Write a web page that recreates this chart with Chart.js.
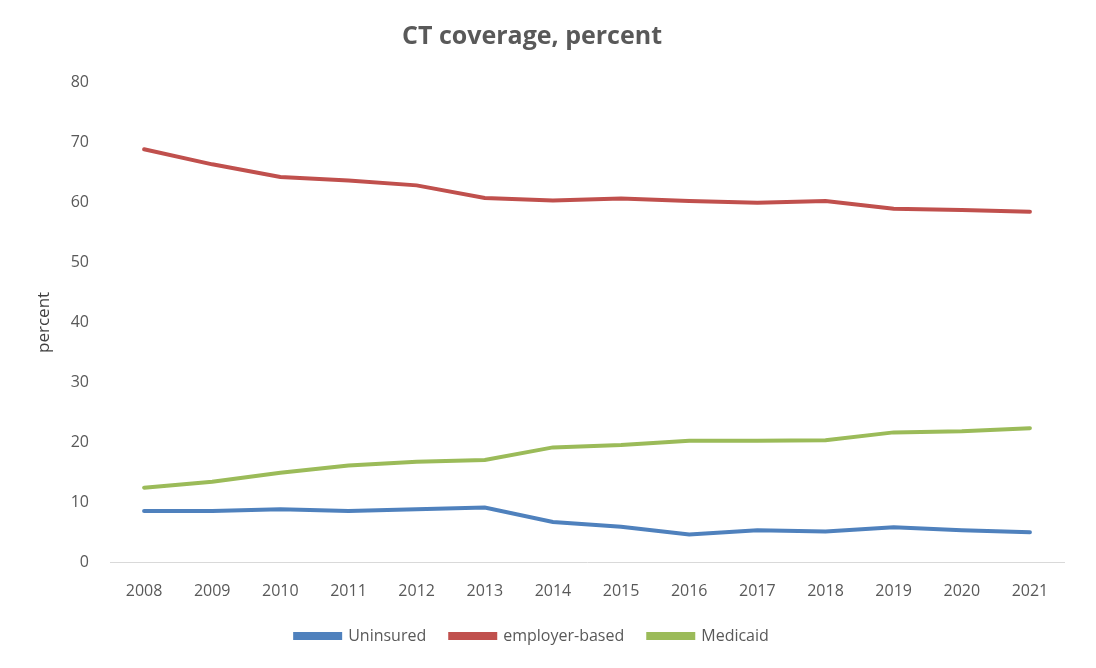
<!DOCTYPE html>
<html>
<head>
<meta charset="utf-8">
<title>CT coverage</title>
<script src="https://cdn.jsdelivr.net/npm/chart.js@4"></script>
<style>
  html, body { margin: 0; padding: 0; background: #fff; }
  #wrap { width: 1096px; height: 668px; position: relative; }
</style>
</head>
<body>
<div id="wrap"><canvas id="coverage"></canvas></div>
<script>
const years = ['2008', '2009', '2010', '2011', '2012', '2013', '2014', '2015', '2016', '2017', '2018', '2019', '2020', '2021'];
const uninsured = [8.6, 8.6, 8.9, 8.6, 8.9, 9.2, 6.8, 6.0, 4.7, 5.4, 5.2, 5.9, 5.4, 5.1];
const employerBased = [68.8, 66.3, 64.2, 63.6, 62.8, 60.7, 60.3, 60.6, 60.2, 59.9, 60.2, 58.9, 58.7, 58.4];
const medicaid = [12.5, 13.5, 15.0, 16.2, 16.8, 17.1, 19.2, 19.6, 20.3, 20.3, 20.4, 21.7, 21.9, 22.4];

const textColor = '#595959';
const fontFamily = '"Open Sans", sans-serif';

function series(label, data, color) {
    return {
        label: label,
        data: data,
        borderColor: color,
        backgroundColor: color,
        borderWidth: 4,
        borderCapStyle: 'round',
        pointRadius: 0,
        tension: 0,
        fill: false
    };
}

new Chart(document.getElementById('coverage'), {
    type: 'line',
    data: {
        labels: years,
        datasets: [
            series('Uninsured', uninsured, '#4F81BD'),
            series('employer-based', employerBased, '#C0504D'),
            series('Medicaid', medicaid, '#9BBB59')
        ]
    },
    options: {
        responsive: true,
        maintainAspectRatio: false,
        animation: false,
        layout: { padding: { left: 0, right: 32, top: 0, bottom: 14 } },
        plugins: {
            title: {
                display: true,
                text: 'CT coverage, percent',
                color: textColor,
                font: { family: fontFamily, size: 25, weight: 'bold' },
                padding: { top: 22, bottom: 30 }
            },
            legend: {
                position: 'bottom',
                labels: {
                    color: textColor,
                    font: { family: fontFamily, size: 16 },
                    boxWidth: 45,
                    boxHeight: 4,
                    padding: 24
                }
            },
            tooltip: { enabled: false }
        },
        scales: {
            x: {
                offset: true,
                grid: { display: false, drawTicks: false },
                border: { display: true, color: '#D9D9D9', width: 1 },
                ticks: {
                    color: textColor,
                    font: { family: fontFamily, size: 16 },
                    padding: 19,
                    maxRotation: 0
                },
                // pull the plot bottom down toward the legend
                afterFit: scale => { scale.height = scale.height - 16; }
            },
            y: {
                min: 0,
                max: 80,
                grid: { display: false, drawTicks: false },
                border: { display: false },
                ticks: {
                    stepSize: 10,
                    color: textColor,
                    font: { family: fontFamily, size: 16 },
                    padding: 21
                },
                title: {
                    display: true,
                    text: 'percent',
                    color: '#404040',
                    font: { family: fontFamily, size: 17 },
                    padding: { top: 34, bottom: 0 }
                },
                afterFit: scale => { scale.width = 110; }
            }
        }
    }
});
</script>
</body>
</html>
